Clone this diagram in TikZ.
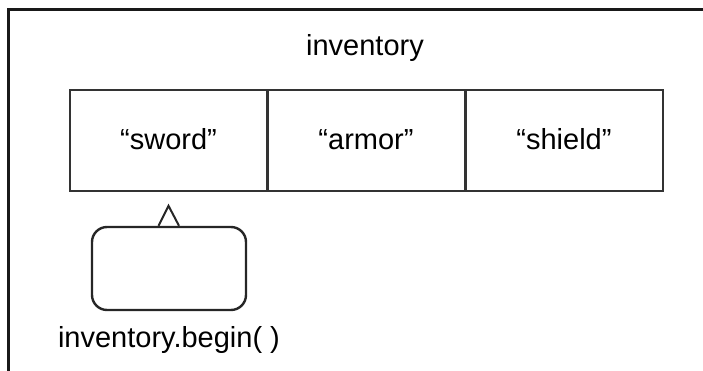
\documentclass[tikz,border=0pt]{standalone}
\usepackage{fontspec}
\setmainfont{Liberation Sans}
\begin{document}
\begin{tikzpicture}[x=1pt,y=-1pt,
  lbl/.style={font=\fontsize{29pt}{33pt}\selectfont, inner sep=0pt},
  cell/.style={draw=black!80, line width=2pt, minimum width=197pt, minimum height=101pt,
    inner sep=0pt, text height=21pt, text depth=2pt,
    font=\fontsize{29pt}{33pt}\selectfont},
  iter/.style={draw=black!85, line width=2.4pt, rounded corners=15pt,
    minimum width=154pt, minimum height=83pt, inner sep=0pt},
  frame/.style={line width=3pt, draw=black!90}]
  \useasboundingbox (0,0) rectangle (703,371);
  % frame edges
  \coordinate (ftl) at (8,10);
  \coordinate (ftr) at (703,10);
  \coordinate (fbl) at (8,371);
  \draw[frame] (ftr) -- (ftl) -- (fbl);
  % container title
  \node[lbl, anchor=base] (title) at (365,56) {inventory};
  % the three elements
  \node[cell] (c1) at (168.5,140.5) {“sword”};
  \node[cell] (c2) at (366,140.5) {“armor”};
  \node[cell] (c3) at (564,140.5) {“shield”};
  % iterator returned by begin()
  \node[iter] (it) at (169,268.5) {};
  \draw[line width=2pt, draw=black!85, line join=miter]
    ([xshift=-10.5pt]it.north) -- ([xshift=-0.5pt,yshift=20pt]it.north) -- ([xshift=10pt]it.north);
  \node[lbl, anchor=base] (itlabel) at (169,347) {inventory.begin( )};
\end{tikzpicture}
\end{document}
